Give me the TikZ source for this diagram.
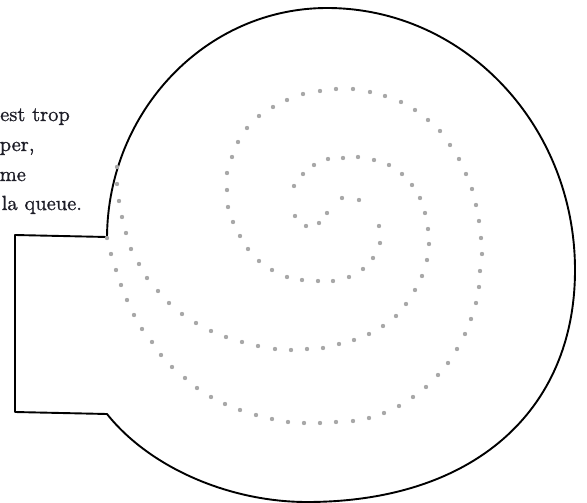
\documentclass[tikz,border=0pt]{standalone}
\usepackage{fontspec}
\newfontfamily\txtfont[FakeBold=1]{lmroman10-regular.otf}
\definecolor{dotgray}{HTML}{A8A8A8}
\definecolor{ink}{HTML}{1E1E28}
\begin{document}
\begin{tikzpicture}[x=1pt,y=-1pt,
  shelline/.style={line width=1.9pt, line join=round, line cap=round, black},
  dotmark/.style={fill=dotgray},
  txt/.style={anchor=base west, inner sep=0pt, text=ink, font=\txtfont\fontsize{20.5}{28}\selectfont}]
\useasboundingbox (0,0) rectangle (587,503);
% text
\node[txt] (l1) at (0,121) {est trop};
\node[txt] (l2) at (-0.5,151) {per,};
\node[txt] (l3) at (-0.5,181) {me};
\node[txt] (l4) at (1.5,210) {la queue.};
% foot (rectangle)
\coordinate (apTop) at (107,237);
\coordinate (apBot) at (107,414);
\coordinate (ftTL) at (15,235);
\coordinate (ftBL) at (15,412);
\coordinate (shBot) at (307,502);
\coordinate (shRight) at (575,270);
\coordinate (shTop) at (327,8);
\draw[shelline] (apTop) -- (ftTL) -- (ftBL) -- (apBot);
% shell outline
\draw[shelline] (apBot) .. controls (150,468) and (230,502) .. (shBot)
  .. controls (472,502) and (575,412) .. (shRight)
  .. controls (575,125) and (464,8) .. (shTop)
  .. controls (206,8) and (108,111) .. (apTop);
% inner edge of the spiral
\foreach \x/\y in {359/200, 342/198, 327/213, 319/223, 306/226, 295/216,
  294/186, 303/174, 314/165, 328/159, 343/158, 358/157, 374/160, 389/165,
  402/174, 412/185, 420/198, 425/213, 428/229, 429/244, 427/260, 422/276,
  415/290, 406/304, 396/316, 383/326, 369/334, 354/340, 339/344, 323/348,
  307/349, 291/350, 275/349, 258/346, 242/342, 226/337, 211/331, 196/323,
  182/314, 169/303, 158/291, 147/278, 139/264, 131/249, 126/233, 122/217,
  119/201, 117/184, 117/167}
  \fill[dotmark] (\x,\y) circle (2.2pt);
% outer edge of the spiral
\foreach \x/\y in {379/226, 380/243, 373/258, 363/269, 349/277, 333/281,
  318/281, 302/280, 287/277, 272/270, 259/261, 248/249, 240/236, 233/222,
  228/207, 227/190, 227/173, 232/157, 238/142, 247/128, 259/116, 273/107,
  287/100, 303/94, 320/91, 336/89, 353/89, 370/92, 385/96, 401/102,
  415/110, 428/120, 440/131, 450/145, 459/159, 466/174, 472/189, 476/205,
  479/221, 481/238, 482/254, 480/271, 479/287, 476/303, 471/319, 465/334,
  457/349, 448/363, 438/375, 426/387, 413/397, 399/406, 384/413, 369/418,
  353/421, 336/422, 320/423, 304/423, 288/422, 272/419, 256/415, 240/410,
  225/404, 211/397, 197/388, 185/378, 172/367, 161/355, 152/342, 142/329,
  134/315, 127/300, 121/285, 116/270, 111/254, 107/238}
  \fill[dotmark] (\x,\y) circle (2.2pt);
\end{tikzpicture}
\end{document}
